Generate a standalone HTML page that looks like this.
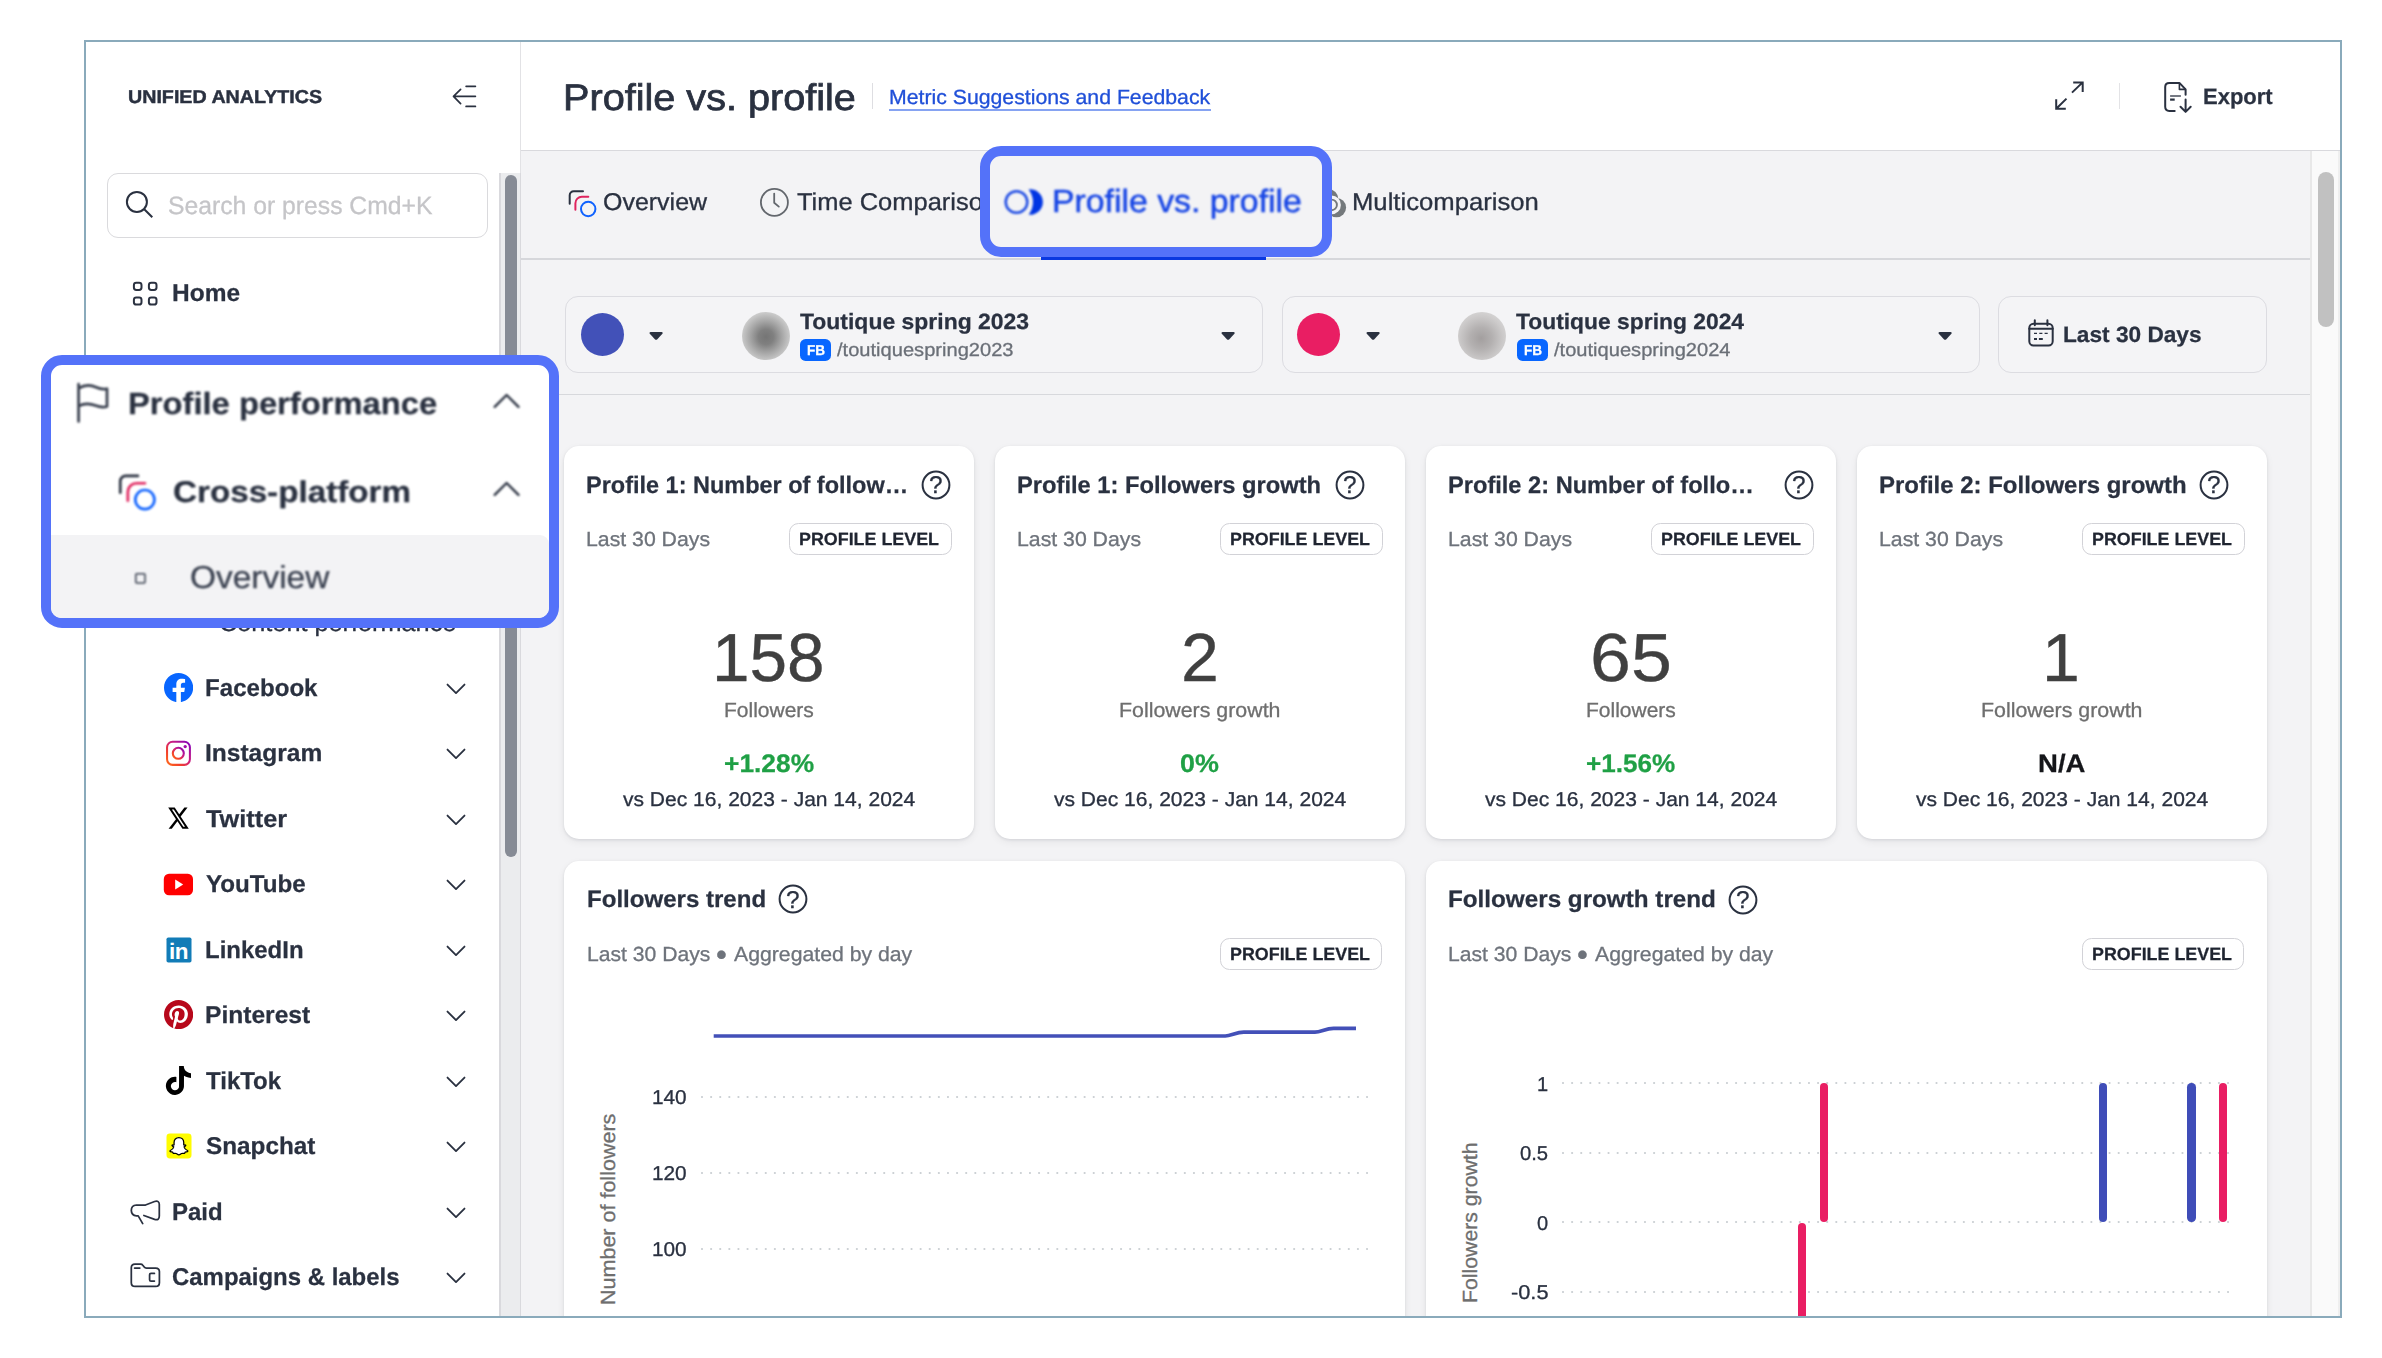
<!DOCTYPE html>
<html lang="en"><head><meta charset="utf-8"><title>Profile vs. profile</title>
<style>
html,body{margin:0;padding:0;background:#fff}
body{width:2382px;height:1358px;position:relative;overflow:hidden;font-family:"Liberation Sans",sans-serif;text-rendering:geometricPrecision}
div,svg,.t{position:absolute}
.t{white-space:nowrap;display:block}
#app{left:0;top:0;width:2340px;height:1316px;overflow:hidden}
#frame{left:84px;top:40px;width:2258px;height:1278px;border:2px solid #8aaabb;box-sizing:border-box}
#hl{left:0;top:0;width:2382px;height:1358px}
</style></head><body>
<div id="app">
<div style="left:86px;top:42px;width:434px;height:1274px;background:#fff"></div>
<div style="left:520px;top:42px;width:1px;height:1274px;background:#e2e2e5"></div>
<div style="left:499px;top:173px;width:22px;height:1143px;background:#ebecee;border-left:2px solid #d9d9dd;border-right:1.500px solid #d9d9dd;box-sizing:border-box"></div>
<div style="left:505px;top:175px;width:12px;height:682px;background:#868b95;border-radius:6px"></div>
<div style="left:521px;top:42px;width:1819px;height:108px;background:#fff"></div>
<div style="left:521px;top:150px;width:1819px;height:1px;background:#d9d9dd"></div>
<div style="left:521px;top:151px;width:1789px;height:1165px;background:#f3f3f5"></div>
<div style="left:2310px;top:151px;width:30px;height:1165px;background:#fafafa;border-left:2px solid #e8e8e8;border-right:2px solid #efefef;box-sizing:border-box"></div>
<div style="left:2318px;top:172px;width:16px;height:155px;background:#c1c1c1;border-radius:8px"></div>
<span class="t" style="left:563.19px;top:79px;transform-origin:0 0;transform:scaleX(1.0710);font-size:37px;line-height:37px;color:#2a3140;-webkit-text-stroke:0.750px #2a3140;">Profile vs. profile</span>
<div style="left:872px;top:83px;width:1px;height:26px;background:#dedee2"></div>
<span class="t" style="left:888.66px;top:88px;transform-origin:0 0;transform:scaleX(1.0362);font-size:20.5px;line-height:20.5px;color:#1f4fd8;-webkit-text-stroke:0.300px;">Metric Suggestions and Feedback</span>
<div style="left:889px;top:109.4px;width:322px;height:1.6px;background:#86a3f2"></div>
<svg style="left:2053px;top:80px;" width="32" height="32" viewBox="0 0 32 32" fill="none"><path d="M19 12.600L29.600 2.400M20.200 2.400h9.500v9.500M13.500 18.600L3.200 28.800M3.200 19.200v9.600h9.600" stroke="#2a3140" stroke-width="2" stroke-linecap="butt" stroke-linejoin="miter"/></svg>
<div style="left:2119px;top:83px;width:1px;height:26px;background:#e3e3e6"></div>
<svg style="left:2163px;top:80px;" width="30" height="35" viewBox="0 0 30 35" fill="none"><path d="M11.700 30.900H6.300c-2.600 0-4.100-1.500-4.100-4.100V7.000c0-2.600 1.500-4.100 4.100-4.100h10.100l6.200 6.500v5.400" stroke="#2a3140" stroke-width="2" stroke-linecap="round" stroke-linejoin="round"/><path d="M16.400 2.900v6.500h6.200" stroke="#2a3140" stroke-width="1.600" stroke-linejoin="round"/><path d="M7.100 16h10.800" stroke="#2a3140" stroke-width="1.300"/><path d="M7.100 19.600h4.600" stroke="#2a3140" stroke-width="2.200"/><path d="M22.600 19.400v12.200M17.500 26.800l5.100 5.100 5.100-5.100" stroke="#2a3140" stroke-width="2" stroke-linecap="round" stroke-linejoin="round"/></svg>
<span class="t" style="left:2202.71px;top:86px;transform-origin:0 0;transform:scaleX(0.9917);font-size:22.2px;line-height:22.2px;color:#2a3140;font-weight:700;-webkit-text-stroke:0.250px;">Export</span>
<div style="left:521px;top:258px;width:1789px;height:2px;background:#d6d7db"></div>
<svg style="left:567.8px;top:189px;" width="29" height="29" viewBox="0 0 29 29" fill="none"><path d="M1.7 14.8V6.2a4 4 0 0 1 4-4h9.3" stroke="#2a3140" stroke-width="2" stroke-linecap="round"/><path d="M7.4 20.8v-6.6a6.5 6.5 0 0 1 6.5-6.5h6.4" stroke="#e0245e" stroke-width="2" stroke-linecap="round"/><circle cx="20.2" cy="20" r="7.2" stroke="#0f62fe" stroke-width="2"/></svg>
<span class="t" style="left:603.27px;top:191px;transform-origin:0 0;transform:scaleX(1.0277);font-size:24.3px;line-height:24.3px;color:#2a3140;-webkit-text-stroke:0.300px;">Overview</span>
<svg style="left:759px;top:187px;" width="31" height="31" viewBox="0 0 31 31" fill="none"><circle cx="15.400" cy="15.400" r="13.500" stroke="#63676d" stroke-width="1.800"/><path d="M15.200 6.600v9.200l4.600 3.800" stroke="#63676d" stroke-width="1.800" stroke-linecap="round" stroke-linejoin="round"/></svg>
<span class="t" style="left:797.10px;top:191px;transform-origin:0 0;transform:scaleX(1.0480);font-size:24.3px;line-height:24.3px;color:#2a3140;-webkit-text-stroke:0.300px;">Time Comparison</span>
<svg style="left:1310px;top:180px;" width="44" height="44" viewBox="0 0 44 44" fill="none"><defs><mask id="mcm"><rect width="44" height="44" fill="#fff"/><circle cx="21.600" cy="24.900" r="9.300" fill="#000"/></mask></defs><g mask="url(#mcm)" fill="#74797c"><circle cx="18" cy="19.500" r="10.500"/><circle cx="26.500" cy="27.600" r="9.600"/></g><circle cx="21.600" cy="24.900" r="5.300" stroke="#74797c" stroke-width="1.900"/></svg>
<span class="t" style="left:1351.69px;top:191px;transform-origin:0 0;transform:scaleX(1.0561);font-size:24.3px;line-height:24.3px;color:#2a3140;-webkit-text-stroke:0.300px;">Multicomparison</span>
<div style="left:1041px;top:255.5px;width:225.2px;height:4.2px;background:#0a38e0"></div>
<div style="left:521px;top:394px;width:1789px;height:1px;background:#d7d8dc"></div>
<div style="left:565px;top:296px;width:698px;height:77px;border:1.5px solid #dcdce1;border-radius:13px;box-sizing:border-box;background:#f4f4f6"></div>
<div style="left:580.5px;top:312.7px;width:43.4px;height:43.4px;background:#4251b8;border-radius:50%"></div>
<svg style="left:648px;top:330px;" width="16" height="12" viewBox="0 0 16 12" fill="none"><path d="M2.600 2.100h11c1 0 1.400 1 .800 1.700L9.100 9.400c-.600.600-1.400.600-2 0L1.800 3.800c-.600-.700-.200-1.700.800-1.700z" fill="#2a3140"/></svg>
<div style="left:741.7px;top:311.9px;width:48.2px;height:48.2px;background:radial-gradient(circle at 50% 52%,#757575 0%,#808080 22%,#a9a9a9 48%,#cdcdcd 72%,#dedede 100%);border-radius:50%"></div>
<span class="t" style="left:799.60px;top:311px;transform-origin:0 0;transform:scaleX(1.0387);font-size:22.1px;line-height:22.1px;color:#2a3140;font-weight:700;-webkit-text-stroke:0.250px;">Toutique spring 2023</span>
<div style="left:800.1px;top:338.9px;width:30.9px;height:22px;background:#0866ff;border-radius:5.600px"></div>
<span class="t" style="left:806.90px;top:344px;transform-origin:0 0;transform:scaleX(0.9589);font-size:14.2px;line-height:14.2px;color:#fff;font-weight:700;-webkit-text-stroke:0.250px;">FB</span>
<span class="t" style="left:837.40px;top:341px;transform-origin:0 0;transform:scaleX(1.0753);font-size:18.7px;line-height:18.7px;color:#6a6f77;-webkit-text-stroke:0.300px;">/toutiquespring2023</span>
<svg style="left:1220.2px;top:330px;" width="16" height="12" viewBox="0 0 16 12" fill="none"><path d="M2.600 2.100h11c1 0 1.400 1 .800 1.700L9.100 9.400c-.600.600-1.400.600-2 0L1.800 3.800c-.600-.700-.200-1.700.800-1.700z" fill="#2a3140"/></svg>
<div style="left:1281.6px;top:296px;width:698px;height:77px;border:1.5px solid #dcdce1;border-radius:13px;box-sizing:border-box;background:#f4f4f6"></div>
<div style="left:1297.1px;top:312.7px;width:43.4px;height:43.4px;background:#e91e63;border-radius:50%"></div>
<svg style="left:1364.6px;top:330px;" width="16" height="12" viewBox="0 0 16 12" fill="none"><path d="M2.600 2.100h11c1 0 1.400 1 .800 1.700L9.100 9.400c-.600.600-1.400.600-2 0L1.800 3.800c-.600-.700-.200-1.700.800-1.700z" fill="#2a3140"/></svg>
<div style="left:1458.3px;top:311.9px;width:48.2px;height:48.2px;background:radial-gradient(circle at 48% 55%,#a39f9f 0%,#b3b0b0 30%,#cbc9c9 60%,#dcdbdb 85%,#e6e6e6 100%);border-radius:50%"></div>
<span class="t" style="left:1516.20px;top:311px;transform-origin:0 0;transform:scaleX(1.0340);font-size:22.1px;line-height:22.1px;color:#2a3140;font-weight:700;-webkit-text-stroke:0.250px;">Toutique spring 2024</span>
<div style="left:1516.7px;top:338.9px;width:30.9px;height:22px;background:#0866ff;border-radius:5.600px"></div>
<span class="t" style="left:1523.50px;top:344px;transform-origin:0 0;transform:scaleX(0.9589);font-size:14.2px;line-height:14.2px;color:#fff;font-weight:700;-webkit-text-stroke:0.250px;">FB</span>
<span class="t" style="left:1554.00px;top:341px;transform-origin:0 0;transform:scaleX(1.0753);font-size:18.7px;line-height:18.7px;color:#6a6f77;-webkit-text-stroke:0.300px;">/toutiquespring2024</span>
<svg style="left:1936.8px;top:330px;" width="16" height="12" viewBox="0 0 16 12" fill="none"><path d="M2.600 2.100h11c1 0 1.400 1 .800 1.700L9.100 9.400c-.600.600-1.400.600-2 0L1.800 3.800c-.600-.700-.200-1.700.800-1.700z" fill="#2a3140"/></svg>
<div style="left:1998px;top:296px;width:269px;height:77px;border:1.5px solid #dcdce1;border-radius:13px;box-sizing:border-box;background:#f4f4f6"></div>
<svg style="left:2027px;top:319px;" width="28" height="29" viewBox="0 0 28 29" fill="none"><rect x="2.300" y="4.800" width="23.400" height="21.700" rx="4.200" stroke="#2a3140" stroke-width="2"/><path d="M7.800 1.300v5M20.400 1.300v5M2.300 9.700h23.400" stroke="#2a3140" stroke-width="2" stroke-linecap="round"/><path d="M7 14.400h3M12.300 14.400h3.100M17.600 14.400h3.100" stroke="#2a3140" stroke-width="1.300"/><path d="M7 20h3M11.900 20h3.900" stroke="#2a3140" stroke-width="2.200"/></svg>
<span class="t" style="left:2063.28px;top:324px;transform-origin:0 0;transform:scaleX(1.0214);font-size:22.2px;line-height:22.2px;color:#2a3140;font-weight:700;-webkit-text-stroke:0.250px;">Last 30 Days</span>
<div style="left:564.2px;top:446px;width:410px;height:393px;background:#fff;border-radius:15px;box-shadow:0 1px 3px rgba(20,25,40,.10),0 3px 9px rgba(20,25,40,.06)"></div>
<span class="t" style="left:586.12px;top:474px;transform-origin:0 0;transform:scaleX(0.9826);font-size:23.9px;line-height:23.9px;color:#2a3140;font-weight:700;-webkit-text-stroke:0.250px;">Profile 1: Number of follow…</span>
<svg style="left:920.4px;top:468.6px;" width="32" height="32" viewBox="0 0 32 32" fill="none"><circle cx="16" cy="16" r="13.400" stroke="#2a3140" stroke-width="2"/></svg>
<span class="t" style="left:929.40px;top:474px;transform-origin:0 0;transform:scaleX(1.0006);font-size:24.3px;line-height:24.3px;color:#2a3140;-webkit-text-stroke:0.300px;">?</span>
<span class="t" style="left:586.06px;top:530px;transform-origin:0 0;transform:scaleX(1.0423);font-size:20.4px;line-height:20.4px;color:#6e737b;-webkit-text-stroke:0.300px;">Last 30 Days</span>
<div style="left:789.1px;top:523px;width:162.8px;height:31.8px;border:1.5px solid #d2d2d7;border-radius:9.500px;box-sizing:border-box;background:#fff"></div>
<span class="t" style="left:799.39px;top:531px;transform-origin:0 0;transform:scaleX(1.0105);font-size:17.7px;line-height:17.7px;color:#1f2430;font-weight:700;-webkit-text-stroke:0.250px;">PROFILE LEVEL</span>
<span class="t" style="left:711.74px;top:624px;transform-origin:0 0;transform:scaleX(0.9921);font-size:68px;line-height:68px;color:#404040;-webkit-text-stroke:0.350px #404040;">158</span>
<span class="t" style="left:723.83px;top:701px;transform-origin:0 0;transform:scaleX(1.0235);font-size:20.5px;line-height:20.5px;color:#6e6e6e;-webkit-text-stroke:0.300px;">Followers</span>
<span class="t" style="left:723.81px;top:752px;transform-origin:0 0;transform:scaleX(1.0411);font-size:25.3px;line-height:25.3px;color:#1fa045;font-weight:700;-webkit-text-stroke:0.250px;">+1.28%</span>
<span class="t" style="left:623.05px;top:790px;transform-origin:0 0;transform:scaleX(1.0513);font-size:20px;line-height:20px;color:#2a3140;-webkit-text-stroke:0.300px;">vs Dec 16, 2023 - Jan 14, 2024</span>
<div style="left:995.2px;top:446px;width:410px;height:393px;background:#fff;border-radius:15px;box-shadow:0 1px 3px rgba(20,25,40,.10),0 3px 9px rgba(20,25,40,.06)"></div>
<span class="t" style="left:1017.11px;top:474px;transform-origin:0 0;transform:scaleX(0.9917);font-size:23.9px;line-height:23.9px;color:#2a3140;font-weight:700;-webkit-text-stroke:0.250px;">Profile 1: Followers growth</span>
<svg style="left:1333.5px;top:468.6px;" width="32" height="32" viewBox="0 0 32 32" fill="none"><circle cx="16" cy="16" r="13.400" stroke="#2a3140" stroke-width="2"/></svg>
<span class="t" style="left:1342.50px;top:474px;transform-origin:0 0;transform:scaleX(1.0006);font-size:24.3px;line-height:24.3px;color:#2a3140;-webkit-text-stroke:0.300px;">?</span>
<span class="t" style="left:1017.06px;top:530px;transform-origin:0 0;transform:scaleX(1.0423);font-size:20.4px;line-height:20.4px;color:#6e737b;-webkit-text-stroke:0.300px;">Last 30 Days</span>
<div style="left:1220.1px;top:523px;width:162.8px;height:31.8px;border:1.5px solid #d2d2d7;border-radius:9.500px;box-sizing:border-box;background:#fff"></div>
<span class="t" style="left:1230.39px;top:531px;transform-origin:0 0;transform:scaleX(1.0105);font-size:17.7px;line-height:17.7px;color:#1f2430;font-weight:700;-webkit-text-stroke:0.250px;">PROFILE LEVEL</span>
<span class="t" style="left:1181.10px;top:624px;transform-origin:0 0;transform:scaleX(1.0006);font-size:68px;line-height:68px;color:#404040;-webkit-text-stroke:0.350px #404040;">2</span>
<span class="t" style="left:1119.06px;top:701px;transform-origin:0 0;transform:scaleX(1.0421);font-size:20.5px;line-height:20.5px;color:#6e6e6e;-webkit-text-stroke:0.300px;">Followers growth</span>
<span class="t" style="left:1180.39px;top:752px;transform-origin:0 0;transform:scaleX(1.0636);font-size:25.3px;line-height:25.3px;color:#1fa045;font-weight:700;-webkit-text-stroke:0.250px;">0%</span>
<span class="t" style="left:1054.05px;top:790px;transform-origin:0 0;transform:scaleX(1.0513);font-size:20px;line-height:20px;color:#2a3140;-webkit-text-stroke:0.300px;">vs Dec 16, 2023 - Jan 14, 2024</span>
<div style="left:1426.2px;top:446px;width:410px;height:393px;background:#fff;border-radius:15px;box-shadow:0 1px 3px rgba(20,25,40,.10),0 3px 9px rgba(20,25,40,.06)"></div>
<span class="t" style="left:1448.11px;top:474px;transform-origin:0 0;transform:scaleX(0.9887);font-size:23.9px;line-height:23.9px;color:#2a3140;font-weight:700;-webkit-text-stroke:0.250px;">Profile 2: Number of follo…</span>
<svg style="left:1782.5px;top:468.6px;" width="32" height="32" viewBox="0 0 32 32" fill="none"><circle cx="16" cy="16" r="13.400" stroke="#2a3140" stroke-width="2"/></svg>
<span class="t" style="left:1791.50px;top:474px;transform-origin:0 0;transform:scaleX(1.0006);font-size:24.3px;line-height:24.3px;color:#2a3140;-webkit-text-stroke:0.300px;">?</span>
<span class="t" style="left:1448.06px;top:530px;transform-origin:0 0;transform:scaleX(1.0423);font-size:20.4px;line-height:20.4px;color:#6e737b;-webkit-text-stroke:0.300px;">Last 30 Days</span>
<div style="left:1651.1px;top:523px;width:162.8px;height:31.8px;border:1.5px solid #d2d2d7;border-radius:9.500px;box-sizing:border-box;background:#fff"></div>
<span class="t" style="left:1661.39px;top:531px;transform-origin:0 0;transform:scaleX(1.0105);font-size:17.7px;line-height:17.7px;color:#1f2430;font-weight:700;-webkit-text-stroke:0.250px;">PROFILE LEVEL</span>
<span class="t" style="left:1590.11px;top:624px;transform-origin:0 0;transform:scaleX(1.0814);font-size:68px;line-height:68px;color:#404040;-webkit-text-stroke:0.350px #404040;">65</span>
<span class="t" style="left:1585.83px;top:701px;transform-origin:0 0;transform:scaleX(1.0235);font-size:20.5px;line-height:20.5px;color:#6e6e6e;-webkit-text-stroke:0.300px;">Followers</span>
<span class="t" style="left:1586.22px;top:752px;transform-origin:0 0;transform:scaleX(1.0317);font-size:25.3px;line-height:25.3px;color:#1fa045;font-weight:700;-webkit-text-stroke:0.250px;">+1.56%</span>
<span class="t" style="left:1485.05px;top:790px;transform-origin:0 0;transform:scaleX(1.0513);font-size:20px;line-height:20px;color:#2a3140;-webkit-text-stroke:0.300px;">vs Dec 16, 2023 - Jan 14, 2024</span>
<div style="left:1857.2px;top:446px;width:410px;height:393px;background:#fff;border-radius:15px;box-shadow:0 1px 3px rgba(20,25,40,.10),0 3px 9px rgba(20,25,40,.06)"></div>
<span class="t" style="left:1879.10px;top:474px;transform-origin:0 0;transform:scaleX(1.0032);font-size:23.9px;line-height:23.9px;color:#2a3140;font-weight:700;-webkit-text-stroke:0.250px;">Profile 2: Followers growth</span>
<svg style="left:2198.3px;top:468.6px;" width="32" height="32" viewBox="0 0 32 32" fill="none"><circle cx="16" cy="16" r="13.400" stroke="#2a3140" stroke-width="2"/></svg>
<span class="t" style="left:2207.30px;top:474px;transform-origin:0 0;transform:scaleX(1.0006);font-size:24.3px;line-height:24.3px;color:#2a3140;-webkit-text-stroke:0.300px;">?</span>
<span class="t" style="left:1879.06px;top:530px;transform-origin:0 0;transform:scaleX(1.0423);font-size:20.4px;line-height:20.4px;color:#6e737b;-webkit-text-stroke:0.300px;">Last 30 Days</span>
<div style="left:2082.1px;top:523px;width:162.8px;height:31.8px;border:1.5px solid #d2d2d7;border-radius:9.500px;box-sizing:border-box;background:#fff"></div>
<span class="t" style="left:2092.39px;top:531px;transform-origin:0 0;transform:scaleX(1.0105);font-size:17.7px;line-height:17.7px;color:#1f2430;font-weight:700;-webkit-text-stroke:0.250px;">PROFILE LEVEL</span>
<span class="t" style="left:2042.10px;top:624px;transform-origin:0 0;transform:scaleX(1.0006);font-size:68px;line-height:68px;color:#404040;-webkit-text-stroke:0.350px #404040;">1</span>
<span class="t" style="left:1981.06px;top:701px;transform-origin:0 0;transform:scaleX(1.0421);font-size:20.5px;line-height:20.5px;color:#6e6e6e;-webkit-text-stroke:0.300px;">Followers growth</span>
<span class="t" style="left:2037.96px;top:752px;transform-origin:0 0;transform:scaleX(1.0899);font-size:25.3px;line-height:25.3px;color:#15161a;font-weight:700;-webkit-text-stroke:0.250px;">N/A</span>
<span class="t" style="left:1916.05px;top:790px;transform-origin:0 0;transform:scaleX(1.0513);font-size:20px;line-height:20px;color:#2a3140;-webkit-text-stroke:0.300px;">vs Dec 16, 2023 - Jan 14, 2024</span>
<div style="left:564.2px;top:861px;width:841px;height:520px;background:#fff;border-radius:15px;box-shadow:0 1px 3px rgba(20,25,40,.10),0 3px 9px rgba(20,25,40,.06)"></div>
<span class="t" style="left:586.59px;top:888px;transform-origin:0 0;transform:scaleX(1.0069);font-size:23.9px;line-height:23.9px;color:#2a3140;font-weight:700;-webkit-text-stroke:0.250px;">Followers trend</span>
<svg style="left:777.4px;top:883.2px;" width="32" height="32" viewBox="0 0 32 32" fill="none"><circle cx="16" cy="16" r="13.400" stroke="#2a3140" stroke-width="2"/></svg>
<span class="t" style="left:786.40px;top:889px;transform-origin:0 0;transform:scaleX(1.0006);font-size:24.3px;line-height:24.3px;color:#2a3140;-webkit-text-stroke:0.300px;">?</span>
<span class="t" style="left:586.56px;top:945px;transform-origin:0 0;transform:scaleX(1.0364);font-size:20.4px;line-height:20.4px;color:#6e737b;-webkit-text-stroke:0.300px;">Last 30 Days</span>
<span class="t" style="left:716.10px;top:939px;transform-origin:0 0;transform:scaleX(1.0006);font-size:31px;line-height:31px;color:#6e737b;-webkit-text-stroke:0.300px;">•</span>
<span class="t" style="left:733.70px;top:945px;transform-origin:0 0;transform:scaleX(1.0408);font-size:20.4px;line-height:20.4px;color:#6e737b;-webkit-text-stroke:0.300px;">Aggregated by day</span>
<div style="left:1219.6px;top:938px;width:162.8px;height:31.8px;border:1.5px solid #d2d2d7;border-radius:9.500px;box-sizing:border-box;background:#fff"></div>
<span class="t" style="left:1229.89px;top:946px;transform-origin:0 0;transform:scaleX(1.0105);font-size:17.7px;line-height:17.7px;color:#1f2430;font-weight:700;-webkit-text-stroke:0.250px;">PROFILE LEVEL</span>
<span class="t" style="left:651.66px;top:1088px;transform-origin:0 0;transform:scaleX(1.0389);font-size:20px;line-height:20px;color:#2a3140;-webkit-text-stroke:0.300px;">140</span>
<svg style="left:699.5px;top:1095px;" width="670" height="4" viewBox="0 0 670 4" fill="none"><path d="M2 2H668" stroke="#c9ced2" stroke-width="2.200" stroke-linecap="round" stroke-dasharray="0.01 9.100"/></svg>
<span class="t" style="left:651.66px;top:1164px;transform-origin:0 0;transform:scaleX(1.0389);font-size:20px;line-height:20px;color:#2a3140;-webkit-text-stroke:0.300px;">120</span>
<svg style="left:699.5px;top:1171px;" width="670" height="4" viewBox="0 0 670 4" fill="none"><path d="M2 2H668" stroke="#c9ced2" stroke-width="2.200" stroke-linecap="round" stroke-dasharray="0.01 9.100"/></svg>
<span class="t" style="left:651.66px;top:1240px;transform-origin:0 0;transform:scaleX(1.0389);font-size:20px;line-height:20px;color:#2a3140;-webkit-text-stroke:0.300px;">100</span>
<svg style="left:699.5px;top:1247px;" width="670" height="4" viewBox="0 0 670 4" fill="none"><path d="M2 2H668" stroke="#c9ced2" stroke-width="2.200" stroke-linecap="round" stroke-dasharray="0.01 9.100"/></svg>
<svg style="left:700px;top:1020px;" width="670" height="30" viewBox="0 0 670 30" fill="none"><path d="M13.700 16H525.200C531 16 536 12.100 543.800 12.100H614.900C621 12.100 625.500 8.300 633.600 8.300H656" stroke="#4350b8" stroke-width="3.700"/></svg>
<span class="t" style="left:599px;top:1304.75px;transform-origin:0 0;transform:rotate(-90deg) scaleX(1.0495);font-size:20.5px;line-height:20.5px;color:#6e6e6e;-webkit-text-stroke:0.300px;">Number of followers</span>
<div style="left:1426.2px;top:861px;width:841px;height:520px;background:#fff;border-radius:15px;box-shadow:0 1px 3px rgba(20,25,40,.10),0 3px 9px rgba(20,25,40,.06)"></div>
<span class="t" style="left:1447.89px;top:888px;transform-origin:0 0;transform:scaleX(1.0143);font-size:23.9px;line-height:23.9px;color:#2a3140;font-weight:700;-webkit-text-stroke:0.250px;">Followers growth trend</span>
<svg style="left:1727.4px;top:883.5px;" width="32" height="32" viewBox="0 0 32 32" fill="none"><circle cx="16" cy="16" r="13.400" stroke="#2a3140" stroke-width="2"/></svg>
<span class="t" style="left:1736.40px;top:889px;transform-origin:0 0;transform:scaleX(1.0006);font-size:24.3px;line-height:24.3px;color:#2a3140;-webkit-text-stroke:0.300px;">?</span>
<span class="t" style="left:1447.86px;top:945px;transform-origin:0 0;transform:scaleX(1.0364);font-size:20.4px;line-height:20.4px;color:#6e737b;-webkit-text-stroke:0.300px;">Last 30 Days</span>
<span class="t" style="left:1577.40px;top:939px;transform-origin:0 0;transform:scaleX(1.0006);font-size:31px;line-height:31px;color:#6e737b;-webkit-text-stroke:0.300px;">•</span>
<span class="t" style="left:1595.00px;top:945px;transform-origin:0 0;transform:scaleX(1.0408);font-size:20.4px;line-height:20.4px;color:#6e737b;-webkit-text-stroke:0.300px;">Aggregated by day</span>
<div style="left:2081.5px;top:938px;width:162.8px;height:31.8px;border:1.5px solid #d2d2d7;border-radius:9.500px;box-sizing:border-box;background:#fff"></div>
<span class="t" style="left:2091.79px;top:946px;transform-origin:0 0;transform:scaleX(1.0105);font-size:17.7px;line-height:17.7px;color:#1f2430;font-weight:700;-webkit-text-stroke:0.250px;">PROFILE LEVEL</span>
<span class="t" style="left:1536.75px;top:1075px;transform-origin:0 0;transform:scaleX(1.0006);font-size:20px;line-height:20px;color:#2a3140;-webkit-text-stroke:0.300px;">1</span>
<svg style="left:1561px;top:1081.4px;" width="670.4" height="4" viewBox="0 0 670.4 4" fill="none"><path d="M2 2H668.4" stroke="#c9ced2" stroke-width="2.200" stroke-linecap="round" stroke-dasharray="0.01 9.100"/></svg>
<span class="t" style="left:1520.20px;top:1144px;transform-origin:0 0;transform:scaleX(1.0116);font-size:20px;line-height:20px;color:#2a3140;-webkit-text-stroke:0.300px;">0.5</span>
<svg style="left:1561px;top:1150.8px;" width="670.4" height="4" viewBox="0 0 670.4 4" fill="none"><path d="M2 2H668.4" stroke="#c9ced2" stroke-width="2.200" stroke-linecap="round" stroke-dasharray="0.01 9.100"/></svg>
<span class="t" style="left:1537.25px;top:1214px;transform-origin:0 0;transform:scaleX(1.0006);font-size:20px;line-height:20px;color:#2a3140;-webkit-text-stroke:0.300px;">0</span>
<svg style="left:1561px;top:1220.2px;" width="670.4" height="4" viewBox="0 0 670.4 4" fill="none"><path d="M2 2H668.4" stroke="#c9ced2" stroke-width="2.200" stroke-linecap="round" stroke-dasharray="0.01 9.100"/></svg>
<span class="t" style="left:1510.80px;top:1283px;transform-origin:0 0;transform:scaleX(1.0891);font-size:20px;line-height:20px;color:#2a3140;-webkit-text-stroke:0.300px;">-0.5</span>
<svg style="left:1561px;top:1289.9px;" width="670.4" height="4" viewBox="0 0 670.4 4" fill="none"><path d="M2 2H668.4" stroke="#c9ced2" stroke-width="2.200" stroke-linecap="round" stroke-dasharray="0.01 9.100"/></svg>
<div style="left:1820.1px;top:1083.4px;width:8.3px;height:138.9px;background:#e91e63;border-radius:4.200px"></div>
<div style="left:1797.7px;top:1222.8px;width:8.3px;height:177.2px;background:#e91e63;border-radius:4.200px"></div>
<div style="left:2098.8px;top:1083.4px;width:8.3px;height:138.9px;background:#3f4db8;border-radius:4.200px"></div>
<div style="left:2187.3px;top:1083.4px;width:8.3px;height:138.9px;background:#3f4db8;border-radius:4.200px"></div>
<div style="left:2219.1px;top:1083.4px;width:8.3px;height:138.9px;background:#e91e63;border-radius:4.200px"></div>
<span class="t" style="left:1461px;top:1303.14px;transform-origin:0 0;transform:rotate(-90deg) scaleX(1.0362);font-size:20.5px;line-height:20.5px;color:#6e6e6e;-webkit-text-stroke:0.300px;">Followers growth</span>
<span class="t" style="left:128.05px;top:88px;transform-origin:0 0;transform:scaleX(1.0525);font-size:18.7px;line-height:18.7px;color:#2a3140;font-weight:700;-webkit-text-stroke:0.450px;">UNIFIED ANALYTICS</span>
<svg style="left:451px;top:84px;" width="28" height="24" viewBox="0 0 28 24" fill="none"><path d="M24.400 2.300H15.100M24.400 12.350H2.600M24.400 22.400H15.100M9.600 5.300L2.500 12.350l7.100 7.200" stroke="#2a3140" stroke-width="1.700" stroke-linecap="round" stroke-linejoin="round"/></svg>
<div style="left:107px;top:173px;width:381px;height:65px;border:1.5px solid #dadadd;border-radius:11px;box-sizing:border-box;background:#fff"></div>
<svg style="left:124px;top:189px;" width="32" height="32" viewBox="0 0 32 32" fill="none"><circle cx="12.9" cy="12.9" r="10" stroke="#2a3140" stroke-width="2"/><path d="M20 20l8.300 8.300" stroke="#2a3140" stroke-width="2"/></svg>
<span class="t" style="left:167.91px;top:194px;transform-origin:0 0;transform:scaleX(0.9888);font-size:25px;line-height:25px;color:#c5c5c8;-webkit-text-stroke:0.300px;">Search or press Cmd+K</span>
<svg style="left:131px;top:280px;" width="30" height="28" viewBox="0 0 30 28" fill="none"><rect x="2.9" y="2.7" width="7.6" height="7.2" rx="2.4" stroke="#2a3140" stroke-width="2"/><rect x="2.9" y="17.4" width="7.6" height="7.2" rx="2.4" stroke="#2a3140" stroke-width="2"/><rect x="17.9" y="2.7" width="7.6" height="7.2" rx="2.4" stroke="#2a3140" stroke-width="2"/><rect x="17.9" y="17.4" width="7.6" height="7.2" rx="2.4" stroke="#2a3140" stroke-width="2"/></svg>
<span class="t" style="left:172.29px;top:282px;transform-origin:0 0;transform:scaleX(1.0077);font-size:24.3px;line-height:24.3px;color:#2a3140;font-weight:700;-webkit-text-stroke:0.250px;">Home</span>
<span class="t" style="left:219.15px;top:612px;transform-origin:0 0;transform:scaleX(1.0526);font-size:24px;line-height:24px;color:#2a3140;-webkit-text-stroke:0.300px;">Content performance</span>
<span class="t" style="left:204.91px;top:677px;transform-origin:0 0;transform:scaleX(0.9920);font-size:24.3px;line-height:24.3px;color:#2a3140;font-weight:700;-webkit-text-stroke:0.250px;">Facebook</span>
<svg style="left:444.5px;top:681.6px;" width="22" height="14" viewBox="0 0 22 14" fill="none"><path d="M2.500 2.600l8.500 8.500 8.500-8.500" stroke="#2a3140" stroke-width="1.850" stroke-linecap="round" stroke-linejoin="round"/></svg>
<span class="t" style="left:204.89px;top:742px;transform-origin:0 0;transform:scaleX(1.0094);font-size:24.3px;line-height:24.3px;color:#2a3140;font-weight:700;-webkit-text-stroke:0.250px;">Instagram</span>
<svg style="left:444.5px;top:747.1px;" width="22" height="14" viewBox="0 0 22 14" fill="none"><path d="M2.500 2.600l8.500 8.500 8.500-8.500" stroke="#2a3140" stroke-width="1.850" stroke-linecap="round" stroke-linejoin="round"/></svg>
<span class="t" style="left:205.90px;top:808px;transform-origin:0 0;transform:scaleX(1.0423);font-size:24.3px;line-height:24.3px;color:#2a3140;font-weight:700;-webkit-text-stroke:0.250px;">Twitter</span>
<svg style="left:444.5px;top:812.6px;" width="22" height="14" viewBox="0 0 22 14" fill="none"><path d="M2.500 2.600l8.500 8.500 8.500-8.500" stroke="#2a3140" stroke-width="1.850" stroke-linecap="round" stroke-linejoin="round"/></svg>
<span class="t" style="left:205.90px;top:873px;transform-origin:0 0;transform:scaleX(0.9949);font-size:24.3px;line-height:24.3px;color:#2a3140;font-weight:700;-webkit-text-stroke:0.250px;">YouTube</span>
<svg style="left:444.5px;top:878.1px;" width="22" height="14" viewBox="0 0 22 14" fill="none"><path d="M2.500 2.600l8.500 8.500 8.500-8.500" stroke="#2a3140" stroke-width="1.850" stroke-linecap="round" stroke-linejoin="round"/></svg>
<span class="t" style="left:204.91px;top:939px;transform-origin:0 0;transform:scaleX(0.9862);font-size:24.3px;line-height:24.3px;color:#2a3140;font-weight:700;-webkit-text-stroke:0.250px;">LinkedIn</span>
<svg style="left:444.5px;top:943.6px;" width="22" height="14" viewBox="0 0 22 14" fill="none"><path d="M2.500 2.600l8.500 8.500 8.500-8.500" stroke="#2a3140" stroke-width="1.850" stroke-linecap="round" stroke-linejoin="round"/></svg>
<span class="t" style="left:204.89px;top:1004px;transform-origin:0 0;transform:scaleX(1.0118);font-size:24.3px;line-height:24.3px;color:#2a3140;font-weight:700;-webkit-text-stroke:0.250px;">Pinterest</span>
<svg style="left:444.5px;top:1009.1px;" width="22" height="14" viewBox="0 0 22 14" fill="none"><path d="M2.500 2.600l8.500 8.500 8.500-8.500" stroke="#2a3140" stroke-width="1.850" stroke-linecap="round" stroke-linejoin="round"/></svg>
<span class="t" style="left:205.90px;top:1070px;transform-origin:0 0;transform:scaleX(0.9877);font-size:24.3px;line-height:24.3px;color:#2a3140;font-weight:700;-webkit-text-stroke:0.250px;">TikTok</span>
<svg style="left:444.5px;top:1074.6px;" width="22" height="14" viewBox="0 0 22 14" fill="none"><path d="M2.500 2.600l8.500 8.500 8.500-8.500" stroke="#2a3140" stroke-width="1.850" stroke-linecap="round" stroke-linejoin="round"/></svg>
<span class="t" style="left:205.90px;top:1135px;transform-origin:0 0;transform:scaleX(1.0006);font-size:24.3px;line-height:24.3px;color:#2a3140;font-weight:700;-webkit-text-stroke:0.250px;">Snapchat</span>
<svg style="left:444.5px;top:1140.1px;" width="22" height="14" viewBox="0 0 22 14" fill="none"><path d="M2.500 2.600l8.500 8.500 8.500-8.500" stroke="#2a3140" stroke-width="1.850" stroke-linecap="round" stroke-linejoin="round"/></svg>
<span class="t" style="left:172.11px;top:1201px;transform-origin:0 0;transform:scaleX(0.9865);font-size:24.3px;line-height:24.3px;color:#2a3140;font-weight:700;-webkit-text-stroke:0.250px;">Paid</span>
<svg style="left:444.5px;top:1205.6px;" width="22" height="14" viewBox="0 0 22 14" fill="none"><path d="M2.500 2.600l8.500 8.500 8.500-8.500" stroke="#2a3140" stroke-width="1.850" stroke-linecap="round" stroke-linejoin="round"/></svg>
<span class="t" style="left:172.11px;top:1266px;transform-origin:0 0;transform:scaleX(0.9853);font-size:24.3px;line-height:24.3px;color:#2a3140;font-weight:700;-webkit-text-stroke:0.250px;">Campaigns &amp; labels</span>
<svg style="left:444.5px;top:1271.1px;" width="22" height="14" viewBox="0 0 22 14" fill="none"><path d="M2.500 2.600l8.500 8.500 8.500-8.500" stroke="#2a3140" stroke-width="1.850" stroke-linecap="round" stroke-linejoin="round"/></svg>
<svg style="left:163.8px;top:672.6px;" width="29.2" height="29.2" viewBox="0 0 24 24" fill="none"><circle cx="12" cy="12" r="11.600" fill="#fff"/><path d="M24 12.073c0-6.627-5.373-12-12-12s-12 5.373-12 12c0 5.990 4.388 10.954 10.125 11.854v-8.385H7.078v-3.470h3.047V9.430c0-3.007 1.792-4.669 4.533-4.669 1.312 0 2.686.235 2.686.235v2.953H15.830c-1.491 0-1.956.925-1.956 1.874v2.250h3.328l-.532 3.470h-2.796v8.385C19.612 23.027 24 18.062 24 12.073z" fill="#0866ff"/></svg>
<svg style="left:165px;top:740px;" width="27" height="27" viewBox="0 0 27 27" fill="none"><defs><linearGradient id="igg" x1="0" y1="1" x2="1" y2="0"><stop offset="0" stop-color="#ff6a1a"/><stop offset="0.28" stop-color="#f2402c"/><stop offset="0.55" stop-color="#d0207a"/><stop offset="0.8" stop-color="#a8109e"/><stop offset="1" stop-color="#7d00be"/></linearGradient></defs><rect x="2.050" y="1.750" width="22.850" height="23.100" rx="5.600" stroke="url(#igg)" stroke-width="2.050"/><circle cx="13.300" cy="13.300" r="5.500" stroke="url(#igg)" stroke-width="2.100"/><circle cx="20.200" cy="6.600" r="1.650" fill="#a010a8"/></svg>
<svg style="left:166.800px;top:804.800px" width="22.900" height="26.300" viewBox="0 0 24 24" preserveAspectRatio="none"><path d="M18.244 2.25h3.308l-7.227 8.26 8.502 11.24H16.17l-5.214-6.817L4.99 21.75H1.68l7.73-8.835L1.254 2.25H8.08l4.713 6.231zm-1.161 17.52h1.833L7.084 4.126H5.117z" fill="#000"/></svg>
<svg style="left:163px;top:873px;" width="31" height="23" viewBox="0 0 31 23" fill="none"><rect x="0.8" y="0.7" width="29.2" height="21.5" rx="5.2" fill="#ff0000"/><path d="M12.2 6.6v9.8l8-4.9z" fill="#fff"/></svg>
<svg style="left:165.8px;top:936.7px;" width="26" height="26" viewBox="0 0 26 26" fill="none"><rect x="0.5" y="0.5" width="25" height="25" rx="1.8" fill="#127cb7"/><text x="3.100" y="21.900" transform="rotate(0.02 13 13)" font-family="Liberation Sans, sans-serif" font-weight="700" font-size="22.500" letter-spacing="-0.600" fill="#fff">in</text></svg>
<svg style="left:163.8px;top:999.9px;" width="29.2" height="29.2" viewBox="0 0 24 24" fill="none"><circle cx="12" cy="12" r="11.6" fill="#fff"/><path d="M12 0C5.373 0 0 5.372 0 12c0 5.084 3.163 9.426 7.627 11.174-.105-.949-.2-2.405.042-3.441.218-.937 1.407-5.965 1.407-5.965s-.359-.719-.359-1.782c0-1.668.967-2.914 2.171-2.914 1.023 0 1.518.769 1.518 1.69 0 1.029-.655 2.568-.994 3.995-.283 1.194.599 2.169 1.777 2.169 2.133 0 3.772-2.249 3.772-5.495 0-2.873-2.064-4.882-5.012-4.882-3.414 0-5.418 2.561-5.418 5.207 0 1.031.397 2.138.893 2.738.098.119.112.224.083.345l-.333 1.36c-.053.22-.174.267-.402.161-1.499-.698-2.436-2.889-2.436-4.649 0-3.785 2.75-7.262 7.929-7.262 4.163 0 7.398 2.967 7.398 6.931 0 4.136-2.607 7.464-6.227 7.464-1.216 0-2.359-.631-2.75-1.378l-.748 2.853c-.271 1.043-1.002 2.35-1.492 3.146C9.57 23.812 10.763 24 12 24c6.627 0 12-5.373 12-12 0-6.628-5.373-12-12-12z" fill="#b7081b"/></svg>
<svg style="left:163.8px;top:1065.8px;" width="28.9" height="28.9" viewBox="0 0 24 24" fill="none"><path d="M12.525.02c1.31-.02 2.61-.01 3.91-.02.08 1.53.63 3.09 1.75 4.17 1.12 1.11 2.7 1.62 4.24 1.79v4.03c-1.44-.05-2.89-.35-4.2-.97-.57-.26-1.1-.59-1.62-.93-.01 2.92.01 5.84-.02 8.75-.08 1.4-.54 2.79-1.35 3.94-1.31 1.92-3.58 3.17-5.91 3.21-1.43.08-2.86-.31-4.08-1.03-2.02-1.19-3.44-3.37-3.65-5.71-.02-.5-.03-1-.01-1.49.18-1.9 1.12-3.72 2.58-4.96 1.66-1.44 3.98-2.13 6.15-1.72.02 1.48-.04 2.96-.04 4.44-.99-.32-2.15-.23-3.02.37-.63.41-1.11 1.04-1.36 1.75-.21.51-.15 1.07-.14 1.61.24 1.64 1.82 3.02 3.5 2.87 1.12-.01 2.19-.66 2.77-1.61.19-.33.4-.67.41-1.06.1-1.79.06-3.57.07-5.36.01-4.03-.01-8.05.02-12.07z" fill="#000"/></svg>
<svg style="left:165.8px;top:1132.8px;" width="26" height="26" viewBox="0 0 26 26" fill="none"><rect x="0.5" y="0.5" width="25" height="25" rx="3.4" fill="#fffc00"/><g transform="translate(-0.300 1.000) scale(1.100)"><path d="M12 3.2c-2.7 0-4.4 2-4.4 4.5v2.3c-.6.3-1.3-.4-1.8.2-.3.6.6 1.1 1.5 1.5-.4 1.6-1.8 2.8-3.1 3.3-.5.2-.4.8.2 1 .7.3 1.7.3 2 .6.2.3.1.9.5 1 .7.2 1.7-.3 2.7.1.8.4 1.4 1.2 2.4 1.2s1.6-.8 2.4-1.2c1-.4 2 .1 2.7-.1.4-.1.3-.7.5-1 .3-.3 1.3-.3 2-.6.6-.2.7-.8.2-1-1.3-.5-2.7-1.7-3.1-3.3.9-.4 1.8-.9 1.5-1.5-.5-.6-1.2.1-1.8-.2V7.700000000000001c0-2.5-1.700-4.5-4.4-4.5z" fill="#fff" stroke="#000" stroke-width="1.15" stroke-linejoin="round"/></g></svg>
<svg style="left:130px;top:1199px;" width="32" height="28" viewBox="0 0 32 28" fill="none"><path d="M13.900 16.500L24.600 20.400Q29.300 21.800 29.300 17V5.600Q29.300 1.200 24.600 2.500L15.500 6H6.400Q1.300 6.300 1.300 11.400 1.500 16.600 6.400 16.900H8.200L12.700 24.600" stroke="#2a3140" stroke-width="1.750" stroke-linecap="round" stroke-linejoin="round"/></svg>
<svg style="left:130px;top:1263px;" width="32" height="26" viewBox="0 0 32 26" fill="none"><path d="M1.300 4.800Q1.300 1.100 5 1.100H10.600Q12 1.100 12.800 2.200L14.200 4Q15 5.100 16.400 5.100H25.700Q29.400 5.100 29.400 8.800V19.700Q29.400 23.400 25.700 23.400H5Q1.300 23.400 1.300 19.700z" stroke="#2a3140" stroke-width="1.750" stroke-linejoin="round"/><path d="M4.600 5H9.800M24.400 10.400H21Q19.600 10.400 19.600 11.800V16.700Q19.600 18.100 21 18.100H24.400" stroke="#2a3140" stroke-width="1.750" stroke-linecap="round"/></svg>
</div>
<div id="frame"></div>
<div id="hl">
<div style="left:980px;top:146px;width:352px;height:111px;border:10px solid #5472f9;border-radius:21px;box-sizing:border-box;background:#f3f3f5"></div>
<svg style="left:1000px;top:185px;filter:blur(0.800px);" width="48" height="34" viewBox="0 0 48 34" fill="none"><circle cx="16.500" cy="17" r="10.800" stroke="#1a48e3" stroke-width="2.500"/><path d="M28.600 4.400A12.700 12.700 0 1 1 28.600 29.600A20.350 20.350 0 0 0 28.600 4.400z" fill="#0035e3"/></svg>
<span class="t" style="left:1051.89px;top:185px;transform-origin:0 0;transform:scaleX(1.0563);font-size:32px;line-height:32px;color:#1443e4;-webkit-text-stroke:0.450px #1443e4;filter:blur(0.800px);">Profile vs. profile</span>
<div style="left:41px;top:355px;width:518px;height:273px;border:10px solid #5472f9;border-radius:21px;box-sizing:border-box;background:#fff"></div>
<div style="left:51px;top:535px;width:498px;height:83px;background:#f3f3f5;border-radius:0 9px 10px 10px"></div>
<svg style="left:75px;top:382px;filter:blur(0.800px);" width="36" height="42" viewBox="0 0 36 42" fill="none"><path d="M3.6 2.200V39.500M3.600 6.400c6-3.800 12.500-3.400 17.500-1.200 4 1.800 7.500 2.300 10.900 1.500V24.500c-3.400 1.200-7.500.700-11.500-.9-5-2-11-2.600-16.900.500" stroke="#353c4b" stroke-width="2.700" stroke-linecap="round" stroke-linejoin="round"/></svg>
<span class="t" style="left:128.06px;top:389px;transform-origin:0 0;transform:scaleX(1.0695);font-size:30.6px;line-height:30.6px;color:#2a3140;font-weight:700;-webkit-text-stroke:0.250px;filter:blur(0.800px);">Profile performance</span>
<svg style="left:491px;top:391px;filter:blur(0.800px);" width="32" height="20" viewBox="0 0 32 20" fill="none"><path d="M3.700 15.900L15.600 4 27.500 15.900" stroke="#2a3140" stroke-width="2.3" stroke-linecap="round" stroke-linejoin="round"/></svg>
<svg style="left:118.4px;top:472.6px;filter:blur(0.800px);" width="38.57" height="38.57" viewBox="0 0 29 29" fill="none"><path d="M1.7 14.8V6.2a4 4 0 0 1 4-4h9.3" stroke="#2a3140" stroke-width="2" stroke-linecap="round"/><path d="M7.4 20.8v-6.6a6.5 6.5 0 0 1 6.5-6.5h6.4" stroke="#e0245e" stroke-width="2" stroke-linecap="round"/><circle cx="20.2" cy="20" r="7.2" stroke="#0f62fe" stroke-width="2"/></svg>
<span class="t" style="left:172.89px;top:478px;transform-origin:0 0;transform:scaleX(1.1067);font-size:30px;line-height:30px;color:#2a3140;font-weight:700;-webkit-text-stroke:0.250px;filter:blur(0.800px);">Cross-platform</span>
<svg style="left:491px;top:478.6px;filter:blur(0.800px);" width="32" height="20" viewBox="0 0 32 20" fill="none"><path d="M3.700 15.900L15.600 4 27.500 15.900" stroke="#2a3140" stroke-width="2.3" stroke-linecap="round" stroke-linejoin="round"/></svg>
<svg style="left:134px;top:572px;filter:blur(0.800px);" width="13" height="13" viewBox="0 0 13 13" fill="none"><rect x="1.800" y="1.700" width="9.200" height="9.400" rx="1" stroke="#3a4150" stroke-width="1.500"/></svg>
<span class="t" style="left:189.64px;top:562px;transform-origin:0 0;transform:scaleX(1.0551);font-size:31.7px;line-height:31.7px;color:#3a4150;-webkit-text-stroke:0.300px;filter:blur(0.800px);">Overview</span>
</div>
</body></html>
